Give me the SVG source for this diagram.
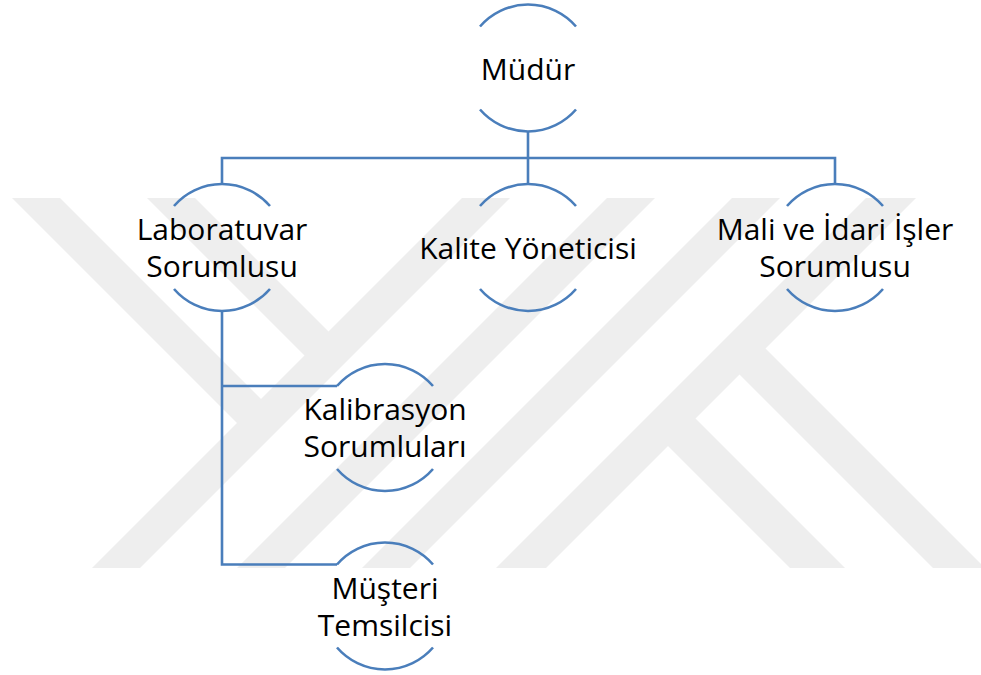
<svg xmlns="http://www.w3.org/2000/svg" width="981" height="675" viewBox="0 0 981 675">
<style>
.wm{fill:#eeeeee;stroke:none}
.arc{fill:none;stroke:#4A7EBB;stroke-width:2.6}
.con{fill:none;stroke:#4A7EBB;stroke-width:2.6}
.t{font-family:"Open Sans","Liberation Sans",sans-serif;font-size:30px;fill:#000;text-anchor:middle}
</style>
<rect width="981" height="675" fill="#fff"/>
<g id="watermark">
<polygon class="wm" points="462,198 510,198 140,568 92,568"/>
<polygon class="wm" points="12,198 60,198 271,409 247,433"/>
<polygon class="wm" points="147,198 195,198 338.5,341.5 314.5,365.5"/>
<polygon class="wm" points="607,198 655,198 285,568 237,568"/>
<polygon class="wm" points="732,198 780,198 410,568 362,568"/>
<polygon class="wm" points="866,198 916,198 546,568 496,568"/>
<polygon class="wm" points="683.5,406.5 845,568 790,568 656,434"/>
<polygon class="wm" points="753.5,336.5 985,568 933,568 727.5,362.5"/>
</g>
<g id="connectors">
<path class="con" d="M528 131.5V158M222 184V158H835V184M528 158V184"/>
<path class="con" d="M222 311V564.5H337M222 386H337"/>
</g>
<g id="n-mudur">
<path class="arc" d="M480 26.5A63.5 63.5 0 0 1 576 26.5M480 109.5A63.5 63.5 0 0 0 576 109.5"/>
<text class="t" x="528" y="80">Müdür</text>
</g>
<g id="n-lab">
<path class="arc" d="M174 206A63.5 63.5 0 0 1 270 206M174 289A63.5 63.5 0 0 0 270 289"/>
<text class="t" x="222" y="240">Laboratuvar</text>
<text class="t" x="222" y="277">Sorumlusu</text>
</g>
<g id="n-kalite">
<path class="arc" d="M480 206A63.5 63.5 0 0 1 576 206M480 289A63.5 63.5 0 0 0 576 289"/>
<text class="t" x="528" y="258.5">Kalite Yöneticisi</text>
</g>
<g id="n-mali">
<path class="arc" d="M787 206A63.5 63.5 0 0 1 883 206M787 289A63.5 63.5 0 0 0 883 289"/>
<text class="t" x="835" y="240">Mali ve İdari İşler</text>
<text class="t" x="835" y="277">Sorumlusu</text>
</g>
<g id="n-kalibrasyon">
<path class="arc" d="M337 386A63.5 63.5 0 0 1 433 386M337 469A63.5 63.5 0 0 0 433 469"/>
<text class="t" x="385" y="420">Kalibrasyon</text>
<text class="t" x="385" y="457">Sorumluları</text>
</g>
<g id="n-musteri">
<path class="arc" d="M337 564.5A63.5 63.5 0 0 1 433 564.5M337 647.5A63.5 63.5 0 0 0 433 647.5"/>
<text class="t" x="385" y="598.5">Müşteri</text>
<text class="t" x="385" y="636">Temsilcisi</text>
</g>
</svg>
